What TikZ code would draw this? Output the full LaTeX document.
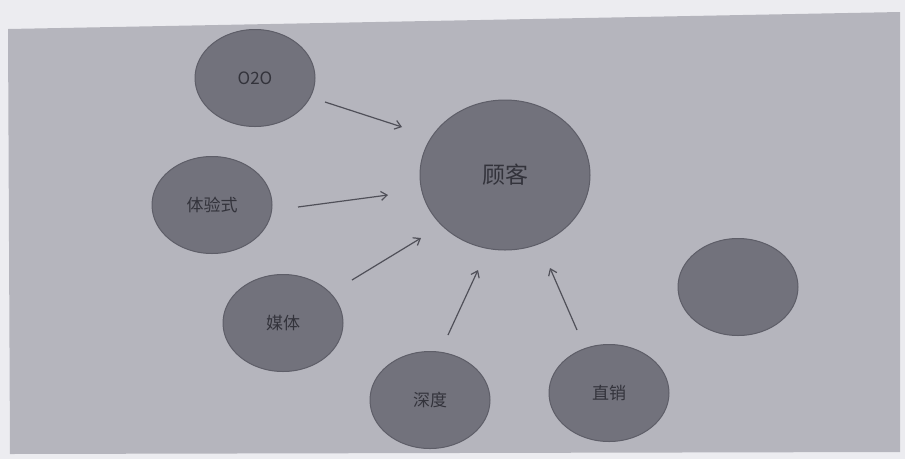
\documentclass[tikz,border=0pt]{standalone}
\usepackage{fontspec}
\newfontfamily\cjk{Noto Sans CJK SC}
\usetikzlibrary{shapes.geometric,arrows.meta}
\definecolor{pagebg}{HTML}{ECECF0}
\definecolor{panel}{HTML}{B5B5BD}
\definecolor{blob}{HTML}{72727C}
\definecolor{blobedge}{HTML}{5E5E68}
\definecolor{ink}{HTML}{33333B}
\definecolor{arrowc}{HTML}{505059}
\tikzset{
  bubble/.style={ellipse, fill=blob, draw=blobedge, line width=1pt,
    minimum width=120pt, minimum height=97pt, inner sep=0pt,
    font=\cjk\fontsize{17}{19}\selectfont, text=ink},
  bigbubble/.style={bubble, minimum width=170pt, minimum height=150pt,
    font=\cjk\fontsize{23}{25}\selectfont},
  flow/.style={draw=arrowc, line width=1.2pt, -{Straight Barb[length=6pt,width=9pt]}}
}
\begin{document}
\begin{tikzpicture}[x=1pt,y=-1pt]
\useasboundingbox (0,0) rectangle (905,459);
\fill[pagebg] (0,0) rectangle (905,459);
\fill[panel] (8,29) -- (900,12) -- (900,452) -- (10,454) -- cycle;
\node[bubble] (o2o) at (255,78) {O2O};
\node[bubble] (exp) at (212,205) {体验式};
\node[bubble] (media) at (283,323) {媒体};
\node[bubble] (depth) at (430,400) {深度};
\node[bubble] (direct) at (609,393) {直销};
\node[bubble] (blank) at (738,287) {};
\node[bigbubble] (cust) at (505,175) {顾客};
\coordinate (a1) at (325,102); \coordinate (b1) at (402,127);
\coordinate (a2) at (298,207); \coordinate (b2) at (388,195);
\coordinate (a3) at (352,280); \coordinate (b3) at (421,238);
\coordinate (a4) at (448,335); \coordinate (b4) at (478,270);
\coordinate (a5) at (577,330); \coordinate (b5) at (550,268);
\draw[flow] (a1) -- (b1);
\draw[flow] (a2) -- (b2);
\draw[flow] (a3) -- (b3);
\draw[flow] (a4) -- (b4);
\draw[flow] (a5) -- (b5);
\end{tikzpicture}
\end{document}
